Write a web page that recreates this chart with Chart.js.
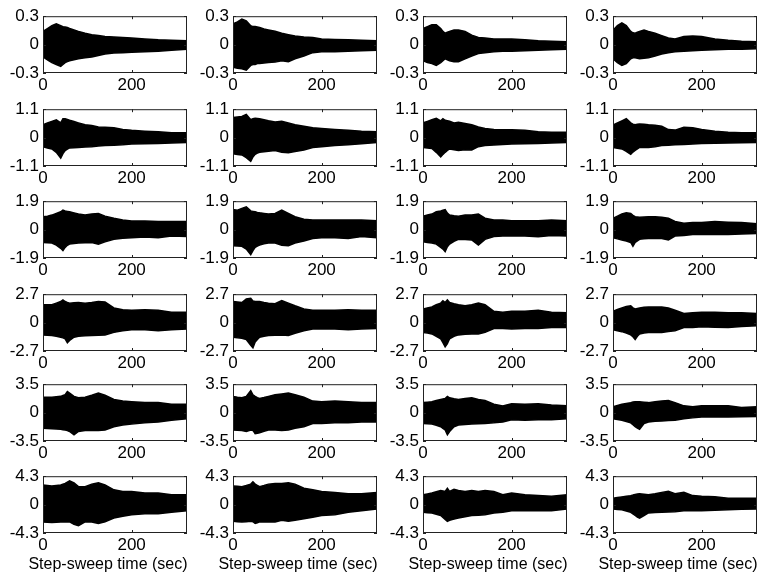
<!DOCTYPE html>
<html>
<head>
<meta charset="utf-8">
<script src="https://cdn.jsdelivr.net/npm/chart.js@4.4.1/dist/chart.umd.min.js"></script>
<style>
	body { margin: 0; background: #fff; width: 773px; height: 579px; overflow: hidden; }
	canvas { position: absolute; }
</style>
</head>
<body>
<script>
// sample times (sec) shared by every panel
const times = [0, 10, 20, 30, 40, 45, 50, 55, 60, 70, 80, 95, 110, 125, 140, 160, 180, 200, 230, 260, 290, 325]
const yLimits = [0.3, 1.1, 1.9, 2.7, 3.5, 4.3]
const xTicks = [0, 200]
const xMax = 325
const xLabel = 'Step-sweep time (sec)'

// upper / lower envelopes, one array per column
const row1Hi = [
	[.14, .17, .20, .22, .20, .19, .185, .18, .17, .155, .14, .12, .105, .095, .085, .08, .075, .07, .06, .05, .045, .04],
	[.22, .24, .27, .25, .20, .19, .19, .185, .18, .165, .155, .14, .12, .105, .09, .08, .075, .06, .055, .05, .045, .04],
	[.17, .19, .21, .21, .17, .14, .12, .13, .14, .155, .155, .14, .10, .075, .07, .06, .06, .06, .05, .04, .035, .03],
	[.15, .20, .23, .20, .14, .125, .12, .13, .14, .155, .14, .12, .095, .07, .06, .085, .09, .085, .06, .045, .035, .03]
]
const row1Lo = [
	[-.13, -.16, -.19, -.21, -.23, -.21, -.19, -.18, -.17, -.16, -.15, -.14, -.13, -.115, -.10, -.09, -.085, -.08, -.075, -.07, -.06, -.05],
	[-.24, -.25, -.255, -.27, -.22, -.21, -.21, -.20, -.20, -.195, -.19, -.185, -.17, -.18, -.15, -.12, -.085, -.075, -.075, -.07, -.065, -.06],
	[-.17, -.19, -.20, -.22, -.19, -.17, -.15, -.16, -.17, -.18, -.18, -.15, -.12, -.095, -.085, -.075, -.07, -.07, -.065, -.06, -.055, -.05],
	[-.15, -.19, -.22, -.20, -.15, -.14, -.14, -.145, -.15, -.145, -.14, -.12, -.10, -.085, -.075, -.07, -.065, -.06, -.055, -.05, -.048, -.045]
]
const row2Hi = [
	[.50, .57, .63, .69, .57, .73, .73, .70, .67, .62, .57, .50, .47, .41, .40, .38, .31, .28, .25, .23, .19, .19],
	[.78, .80, .82, .90, .69, .73, .75, .74, .73, .69, .65, .60, .63, .57, .50, .44, .38, .35, .31, .28, .25, .23],
	[.57, .63, .69, .75, .65, .73, .67, .65, .63, .57, .59, .55, .50, .41, .35, .31, .30, .30, .28, .23, .21, .21],
	[.48, .57, .65, .73, .57, .52, .50, .52, .53, .52, .50, .48, .44, .31, .29, .40, .38, .31, .25, .21, .19, .19]
]
const row2Lo = [
	[-.35, -.40, -.44, -.57, -.79, -.62, -.50, -.45, -.40, -.39, -.38, -.36, -.35, -.33, -.31, -.30, -.28, -.25, -.24, -.23, -.21, -.19],
	[-.63, -.65, -.67, -.78, -.92, -.75, -.65, -.60, -.57, -.55, -.53, -.50, -.57, -.59, -.54, -.48, -.38, -.35, -.31, -.28, -.24, -.19],
	[-.38, -.40, -.42, -.57, -.75, -.65, -.57, -.50, -.44, -.47, -.50, -.47, -.48, -.35, -.31, -.29, -.27, -.25, -.24, -.23, -.21, -.19],
	[-.38, -.41, -.44, -.53, -.65, -.56, -.50, -.44, -.38, -.38, -.38, -.35, -.31, -.30, -.28, -.27, -.25, -.23, -.22, -.21, -.20, -.19]
]
const row3Hi = [
	[.86, .90, .97, 1.08, 1.19, 1.30, 1.25, 1.22, 1.19, 1.12, 1.04, .97, 1.04, 1.08, .90, .76, .65, .58, .58, .54, .54, .54],
	[1.34, 1.30, 1.42, 1.52, 1.25, 1.22, 1.19, 1.15, 1.12, 1.08, 1.04, 1.08, 1.30, 1.08, .86, .69, .65, .65, .65, .65, .65, .60],
	[.90, .97, 1.04, 1.19, 1.25, 1.30, 1.34, 1.10, .97, .92, .90, .97, .97, 1.04, .76, .65, .65, .60, .60, .60, .65, .60],
	[.76, .90, 1.04, 1.12, 1.08, .95, .86, .84, .82, .84, .86, .86, .82, .76, .54, .43, .47, .47, .54, .50, .47, .39]
]
const row3Lo = [
	[-.86, -.88, -.90, -1.04, -1.25, -1.40, -1.19, -1.05, -.97, -.93, -.90, -.88, -.86, -.97, -.82, -.65, -.58, -.54, -.50, -.54, -.43, -.47],
	[-1.08, -1.10, -1.12, -1.30, -1.68, -1.40, -1.19, -1.10, -1.04, -.95, -.90, -.90, -1.04, -1.08, -.90, -.76, -.60, -.54, -.54, -.60, -.47, -.54],
	[-.82, -.86, -.90, -.97, -1.19, -1.30, -1.47, -1.15, -.97, -.78, -.65, -.67, -.69, -1.04, -.65, -.47, -.43, -.43, -.43, -.47, -.39, -.43],
	[-.54, -.62, -.69, -.76, -.86, -1.12, -.86, -.75, -.65, -.62, -.60, -.60, -.60, -.69, -.43, -.39, -.32, -.32, -.32, -.32, -.30, -.26]
]
const row4Hi = [
	[1.70, 1.70, 1.70, 1.85, 2.00, 2.16, 2.00, 1.92, 1.85, 1.88, 1.90, 1.85, 1.90, 2.00, 1.95, 1.39, 1.23, 1.17, 1.23, 1.17, .99, .99],
	[2.00, 1.95, 1.90, 2.25, 2.30, 2.05, 2.00, 2.00, 2.00, 1.92, 1.85, 1.79, 2.10, 1.85, 1.60, 1.30, 1.17, 1.17, 1.17, 1.23, 1.17, 1.17],
	[1.30, 1.40, 1.48, 1.70, 1.85, 2.07, 1.91, 2.16, 1.91, 1.80, 1.70, 1.60, 1.70, 1.85, 1.70, 1.08, .99, 1.08, 1.08, 1.17, .99, .93],
	[1.08, 1.25, 1.39, 1.54, 1.60, 1.40, 1.30, 1.35, 1.39, 1.45, 1.48, 1.48, 1.48, 1.39, 1.17, .86, .93, .99, .99, .93, .93, .86]
]
const row4Lo = [
	[-1.17, -1.20, -1.23, -1.30, -1.39, -1.45, -1.54, -1.91, -1.70, -1.39, -1.30, -1.26, -1.23, -1.20, -1.17, -.93, -.77, -.68, -.68, -.77, -.68, -.62],
	[-1.39, -1.44, -1.48, -1.60, -2.16, -2.40, -1.85, -1.60, -1.39, -1.30, -1.23, -1.20, -1.17, -1.23, -1.02, -.77, -.62, -.62, -.62, -.68, -.62, -.56],
	[-.93, -1.00, -1.08, -1.30, -1.54, -1.90, -2.31, -2.00, -1.54, -1.30, -1.17, -1.10, -1.08, -1.08, -.93, -.56, -.56, -.62, -.56, -.56, -.46, -.46],
	[-.68, -.78, -.86, -.99, -1.17, -1.35, -1.60, -1.30, -1.08, -.98, -.93, -.93, -.93, -.85, -.77, -.46, -.46, -.40, -.44, -.46, -.38, -.31]
]
const row5Hi = [
	[1.90, 1.90, 1.90, 1.95, 2.00, 2.10, 2.20, 2.60, 2.40, 2.00, 1.82, 1.90, 2.14, 2.40, 2.14, 1.62, 1.42, 1.34, 1.23, 1.23, 1.03, 1.03],
	[2.00, 1.90, 1.82, 2.00, 2.70, 2.20, 2.00, 1.85, 1.74, 1.85, 2.00, 2.20, 2.30, 2.40, 2.20, 1.90, 1.42, 1.34, 1.42, 1.34, 1.23, 1.23],
	[1.23, 1.28, 1.34, 1.48, 1.62, 1.68, 1.74, 2.00, 1.82, 1.70, 1.62, 1.74, 1.82, 1.62, 1.50, 1.03, .83, 1.10, 1.03, 1.10, .95, .83],
	[.71, .87, 1.03, 1.13, 1.23, 1.30, 1.34, 1.34, 1.34, 1.28, 1.23, 1.34, 1.42, 1.50, 1.23, .83, .71, .83, .83, .83, .63, .71]
]
const row5Lo = [
	[-1.94, -1.97, -2.00, -2.03, -2.06, -2.10, -2.15, -2.20, -2.33, -2.73, -2.33, -2.20, -2.20, -2.20, -2.14, -1.74, -1.54, -1.42, -1.26, -1.15, -.95, -.75],
	[-2.14, -2.17, -2.20, -2.33, -2.14, -2.20, -2.60, -2.55, -2.50, -2.30, -2.14, -2.14, -2.20, -2.14, -1.94, -1.74, -1.34, -1.34, -1.26, -1.26, -1.15, -1.15],
	[-1.34, -1.38, -1.42, -1.55, -1.74, -1.95, -2.14, -2.73, -2.33, -1.74, -1.54, -1.48, -1.42, -1.38, -1.34, -1.26, -1.15, -.87, -.95, -.87, -.87, -.75],
	[-.75, -.85, -.95, -1.10, -1.26, -1.50, -1.74, -1.90, -2.06, -1.34, -1.15, -1.08, -1.03, -.98, -.95, -.75, -.65, -.55, -.55, -.55, -.50, -.47]
]
const row6Hi = [
	[2.96, 2.90, 2.82, 2.90, 2.96, 3.08, 3.20, 3.40, 3.60, 3.30, 2.72, 2.72, 3.10, 3.30, 2.96, 2.24, 2.00, 2.00, 1.75, 1.75, 1.50, 1.50],
	[2.82, 2.77, 2.72, 2.90, 3.10, 3.45, 3.10, 2.90, 2.72, 2.90, 3.10, 3.20, 3.20, 3.30, 3.10, 2.48, 2.24, 2.00, 1.85, 1.65, 1.65, 1.85],
	[1.50, 1.62, 1.75, 1.95, 2.14, 2.07, 2.00, 2.48, 2.00, 2.33, 2.14, 2.00, 2.14, 2.00, 2.14, 2.00, 1.50, 1.75, 1.50, 1.36, 1.26, 1.50],
	[.97, 1.07, 1.17, 1.26, 1.36, 1.45, 1.55, 1.60, 1.65, 1.58, 1.50, 1.65, 1.85, 2.00, 1.65, 1.85, 1.36, 1.26, 1.17, .97, .97, .97]
]
const row6Lo = [
	[-2.62, -2.67, -2.72, -2.67, -2.62, -2.62, -2.62, -2.62, -2.62, -3.00, -3.20, -2.62, -2.62, -2.86, -2.62, -2.04, -1.75, -1.55, -1.40, -1.40, -1.17, -.92],
	[-2.53, -2.58, -2.62, -2.58, -2.53, -2.60, -2.86, -2.75, -2.62, -2.62, -2.62, -2.62, -2.38, -2.53, -2.38, -2.14, -1.90, -1.65, -1.55, -1.17, -.92, -.68],
	[-1.17, -1.22, -1.26, -1.45, -1.65, -1.95, -2.24, -2.53, -2.38, -2.20, -2.04, -1.85, -1.65, -1.60, -1.55, -1.26, -1.17, -.92, -.92, -.92, -.92, -.68],
	[-.68, -.73, -.78, -.98, -1.17, -1.40, -1.65, -1.90, -2.04, -1.65, -1.26, -1.20, -1.17, -1.12, -1.07, -.92, -.92, -.92, -.85, -.78, -.72, -.68]
]

const rowsHi = [row1Hi, row2Hi, row3Hi, row4Hi, row5Hi, row6Hi]
const rowsLo = [row1Lo, row2Lo, row3Lo, row4Lo, row5Lo, row6Lo]

// where each plot box sits on the page
const plotLeft = [43, 233, 423, 613]
const plotTop = [14, 107, 199, 292, 382, 474]
const plotW = 144
const plotH = 59
const yAxisW = 42
const padTop = 12
const padRight = 4
const fontFamily = "'Liberation Sans', Arial, Helvetica, sans-serif"

Chart.defaults.font.family = fontFamily
Chart.defaults.font.size = 17
Chart.defaults.color = '#000'

// MATLAB style box with inward ticks on all four sides
const boxPlugin = {
	id: 'box',
	afterDatasetsDraw(chart) {
		const { ctx, chartArea: a, scales } = chart
		const len = 3
		ctx.save()
		ctx.strokeStyle = '#222'
		ctx.lineWidth = 1
		ctx.strokeRect(a.left + 0.5, a.top + 0.5, a.width - 1, a.height - 1)
		ctx.beginPath()
		for (const t of scales.x.ticks) {
			const px = Math.round(scales.x.getPixelForValue(t.value)) + 0.5
			ctx.moveTo(px, a.top)
			ctx.lineTo(px, a.top + len)
			ctx.moveTo(px, a.bottom)
			ctx.lineTo(px, a.bottom - len)
		}
		for (const t of scales.y.ticks) {
			const py = Math.round(scales.y.getPixelForValue(t.value)) + 0.5
			ctx.moveTo(a.left, py)
			ctx.lineTo(a.left + len, py)
			ctx.moveTo(a.right, py)
			ctx.lineTo(a.right - len, py)
		}
		ctx.stroke()
		ctx.restore()
	}
}

// x label drawn by hand: the built-in scale title gets squeezed to the plot width
const xLabelPlugin = {
	id: 'xlabel',
	afterDraw(chart, args, opts) {
		if (!opts.text) return
		const { ctx, chartArea: a } = chart
		ctx.save()
		ctx.font = '16px ' + fontFamily
		ctx.fillStyle = '#000'
		ctx.textAlign = 'center'
		ctx.textBaseline = 'middle'
		ctx.fillText(opts.text, (a.left + a.right) / 2 - 7, a.bottom + 32)
		ctx.restore()
	}
}

function makePanel(row, col) {
	const lim = yLimits[row]
	const hi = rowsHi[row][col]
	const lo = rowsLo[row][col]
	const bottomRow = row === yLimits.length - 1
	const xAxisH = bottomRow ? 45 : 22

	const canvas = document.createElement('canvas')
	canvas.width = yAxisW + plotW + padRight
	canvas.height = padTop + plotH + xAxisH
	canvas.style.left = (plotLeft[col] - yAxisW) + 'px'
	canvas.style.top = (plotTop[row] - padTop) + 'px'
	document.body.appendChild(canvas)

	const line = {
		borderColor: '#000',
		backgroundColor: '#000',
		borderWidth: 1.5,
		pointRadius: 0,
		tension: 0
	}

	new Chart(canvas, {
		type: 'line',
		data: {
			datasets: [
				{ ...line, data: times.map((t, i) => ({ x: t, y: hi[i] })), fill: '+1' },
				{ ...line, data: times.map((t, i) => ({ x: t, y: lo[i] })), fill: false }
			]
		},
		options: {
			responsive: false,
			animation: false,
			devicePixelRatio: 1,
			layout: { padding: { top: padTop, right: padRight, left: 0, bottom: 0 } },
			plugins: {
				legend: { display: false },
				tooltip: { enabled: false },
				xlabel: { text: bottomRow ? xLabel : '' }
			},
			scales: {
				x: {
					type: 'linear',
					min: 0,
					max: xMax,
					afterBuildTicks: s => { s.ticks = xTicks.map(v => ({ value: v })) },
					afterFit: s => { s.height = xAxisH },
					grid: { drawOnChartArea: false, drawTicks: false },
					border: { display: false },
					ticks: { padding: 2, maxRotation: 0, autoSkip: false }
				},
				y: {
					min: -lim,
					max: lim,
					afterBuildTicks: s => { s.ticks = [-lim, 0, lim].map(v => ({ value: v })) },
					afterFit: s => { s.width = yAxisW },
					grid: { drawOnChartArea: false, drawTicks: false },
					border: { display: false },
					ticks: { padding: 4, autoSkip: false, callback: v => String(v) }
				}
			}
		},
		plugins: [boxPlugin, xLabelPlugin]
	})
}

for (let r = 0; r < yLimits.length; r++) {
	for (let c = 0; c < plotLeft.length; c++) {
		makePanel(r, c)
	}
}
</script>
</body>
</html>
